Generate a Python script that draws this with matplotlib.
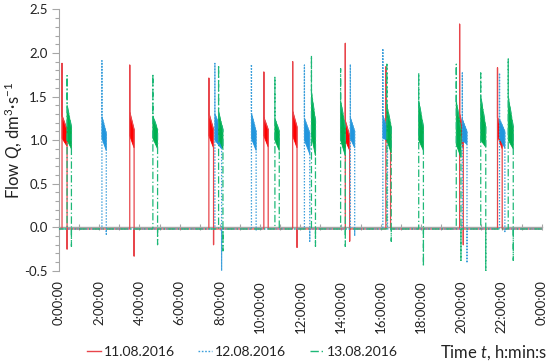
import matplotlib
matplotlib.use("Agg")
import matplotlib.pyplot as plt
from matplotlib.lines import Line2D
from matplotlib.ticker import MultipleLocator

plt.rcParams['font.family'] = ['Lato', 'DejaVu Sans']
plt.rcParams['mathtext.fontset'] = 'custom'
plt.rcParams['mathtext.rm'] = 'Lato'
plt.rcParams['mathtext.it'] = 'Lato:italic'

# ---------------- data ----------------
labels = ["11.08.2016", "12.08.2016", "13.08.2016"]
baseline = -0.02

# 11.08.2016
red_start = ["0:09", "3:31", "7:27", "10:11", "11:37", "14:14", "16:15", "19:55", "21:48"]
red_end   = ["0:24", "3:44", "7:41", "10:24", "11:50", "14:27", "16:29", "20:06", "22:02"]
red_peak  = [1.88, 1.86, 1.71, 1.78, 1.90, 2.11, 1.84, 2.33, 1.83]
red_neg   = [-0.25, -0.33, -0.20, -0.02, -0.23, -0.16, -0.02, -0.20, -0.02]
red_hi0   = [1.28, 1.32, 1.31, 1.26, 1.33, 1.22, 1.25, 1.30, 1.26]
red_hi1   = [1.12, 1.12, 1.12, 1.12, 1.15, 1.05, 1.10, 1.12, 1.10]
red_lo0   = [1.02, 1.05, 1.05, 1.05, 1.05, 1.00, 1.00, 1.05, 1.05]
red_lo1   = [0.93, 0.91, 0.91, 0.92, 0.91, 0.88, 0.92, 0.90, 0.90]

# 12.08.2016
blue_start = ["2:08", "7:45", "9:34", "12:12", "14:29", "16:06", "20:03", "21:54"]
blue_end   = ["2:21", "8:05", "9:48", "12:28", "14:42", "16:20", "20:17", "22:10"]
blue_peak  = [1.91, 1.88, 1.87, 1.86, 1.87, 2.05, 1.77, 1.77]
blue_neg   = [-0.08, -0.50, -0.03, -0.16, -0.10, -0.02, -0.41, -0.05]
blue_hi0   = [1.27, 1.30, 1.31, 1.25, 1.26, 1.28, 1.24, 1.24]
blue_hi1   = [1.08, 1.10, 1.10, 1.08, 1.10, 1.12, 1.10, 1.10]
blue_lo0   = [1.02, 1.00, 1.02, 1.00, 1.02, 1.02, 1.00, 1.02]
blue_lo1   = [0.88, 0.90, 0.88, 0.84, 0.91, 1.00, 0.95, 0.91]

# 13.08.2016
green_start = ["0:24", "4:40", "7:56", "10:44", "12:33", "14:00", "16:18", "17:53", "19:45", "20:58", "22:20"]
green_end   = ["0:37", "4:54", "8:09", "10:57", "12:45", "14:14", "16:31", "18:07", "19:59", "21:13", "22:35"]
green_peak  = [1.74, 1.76, 1.86, 1.72, 1.97, 1.82, 1.87, 1.77, 1.87, 1.77, 1.93]
green_neg   = [-0.22, -0.20, -0.27, -0.02, -0.22, -0.22, -0.16, -0.45, -0.38, -0.50, -0.38]
green_hi0   = [1.40, 1.28, 1.32, 1.25, 1.55, 1.45, 1.40, 1.45, 1.45, 1.50, 1.50]
green_hi1   = [1.15, 1.12, 1.12, 1.10, 1.22, 1.15, 1.15, 1.15, 1.12, 1.15, 1.15]
green_lo0   = [1.00, 1.02, 1.02, 1.00, 1.05, 1.00, 1.00, 1.00, 0.95, 1.00, 1.00]
green_lo1   = [0.90, 0.90, 0.90, 0.88, 0.82, 0.82, 0.85, 0.88, 0.80, 0.92, 0.90]

xtick_hours = list(range(0, 25, 2))
xtick_labels = [f"{h % 24}:00:00" for h in xtick_hours]


def hours(s):
    hh, mm = s.split(":")
    return int(hh) + int(mm) / 60.0


series = [
    (red_start, red_end, red_peak, red_neg, red_hi0, red_hi1, red_lo0, red_lo1),
    (blue_start, blue_end, blue_peak, blue_neg, blue_hi0, blue_hi1, blue_lo0, blue_lo1),
    (green_start, green_end, green_peak, green_neg, green_hi0, green_hi1, green_lo0, green_lo1),
]
line_colors = ["#E8454B", "#3C9FDB", "#1DB877"]
body_colors = ["#FF0000", "#2196DE", "#00B050"]
styles = ["-", (0, (1.2, 1.2)), (0, (6, 2, 1, 2))]

# ---------------- figure ----------------
fig = plt.figure(figsize=(5.5, 3.62), dpi=100)
ax = fig.add_axes([0.1073, 0.252, 0.8777, 0.722])

for i, (st, en, pk, ng, h0, h1, l0, l1) in enumerate(series):
    xs, ys = [0.0], [baseline]
    for k in range(len(st)):
        t0, t1 = hours(st[k]), hours(en[k])
        xs += [t0, t0, t0, t1, t1, t1]
        ys += [baseline, pk[k], h0[k], h1[k], ng[k], baseline]
        ax.fill([t0, t1, t1, t0], [h0[k], h1[k], l1[k], l0[k]],
                color=body_colors[i], lw=0.6, ec=body_colors[i], zorder=3 + i)
    xs.append(24.0)
    ys.append(baseline)
    ax.plot(xs, ys, color=line_colors[i], lw=0.9, ls=styles[i], zorder=3 + i)

ax.set_xlim(0, 24)
ax.set_ylim(-0.5, 2.5)

# y axis
ax.yaxis.set_major_locator(MultipleLocator(0.5))
ax.yaxis.set_minor_locator(MultipleLocator(0.1))
ax.yaxis.set_major_formatter(plt.FuncFormatter(lambda v, p: f"{v:.1f}"))
ax.tick_params(axis='y', which='major', length=5, width=0.8, color='#A6A6A6',
               labelsize=9.5, labelcolor='#222222', pad=3)
ax.tick_params(axis='y', which='minor', length=3, width=0.8, color='#A6A6A6')
ax.spines['left'].set_color('#A6A6A6')
ax.spines['left'].set_linewidth(0.8)
ax.spines['top'].set_visible(False)
ax.spines['right'].set_visible(False)

# x axis line at zero with ticks crossing
ax.spines['bottom'].set_position(('data', 0))
ax.spines['bottom'].set_color('#A6A6A6')
ax.spines['bottom'].set_linewidth(1.0)
ax.spines['bottom'].set_zorder(2)
ax.set_xticks(xtick_hours)
ax.xaxis.set_minor_locator(MultipleLocator(1))
ax.tick_params(axis='x', which='both', direction='inout', length=5, width=0.8,
               color='#A6A6A6', labelbottom=False)

sec = ax.secondary_xaxis(0.0)
sec.set_xticks(xtick_hours)
sec.set_xticklabels(xtick_labels, rotation=90)
sec.spines['bottom'].set_visible(False)
sec.tick_params(axis='x', length=0, pad=7, labelsize=9.5, labelcolor='#222222')

ax.set_ylabel(r"Flow $Q$, dm$^3$·s$^{-1}$", fontsize=12, color='#222222')
ax.yaxis.set_label_coords(-0.07, 0.5)

handles = [Line2D([0], [0], color=line_colors[i], lw=1.0, ls=styles[i]) for i in range(3)]
fig.legend(handles, labels, loc='center left', bbox_to_anchor=(0.148, 0.027), ncol=3,
           frameon=False, fontsize=10, handlelength=1.0, handletextpad=0.2,
           columnspacing=1.7, labelcolor='#222222', borderaxespad=0)
fig.text(0.995, 0.027, r"Time $t$, h:min:s", ha='right', va='center', fontsize=12, color='#222222')

fig.savefig("out.png", dpi=100)
